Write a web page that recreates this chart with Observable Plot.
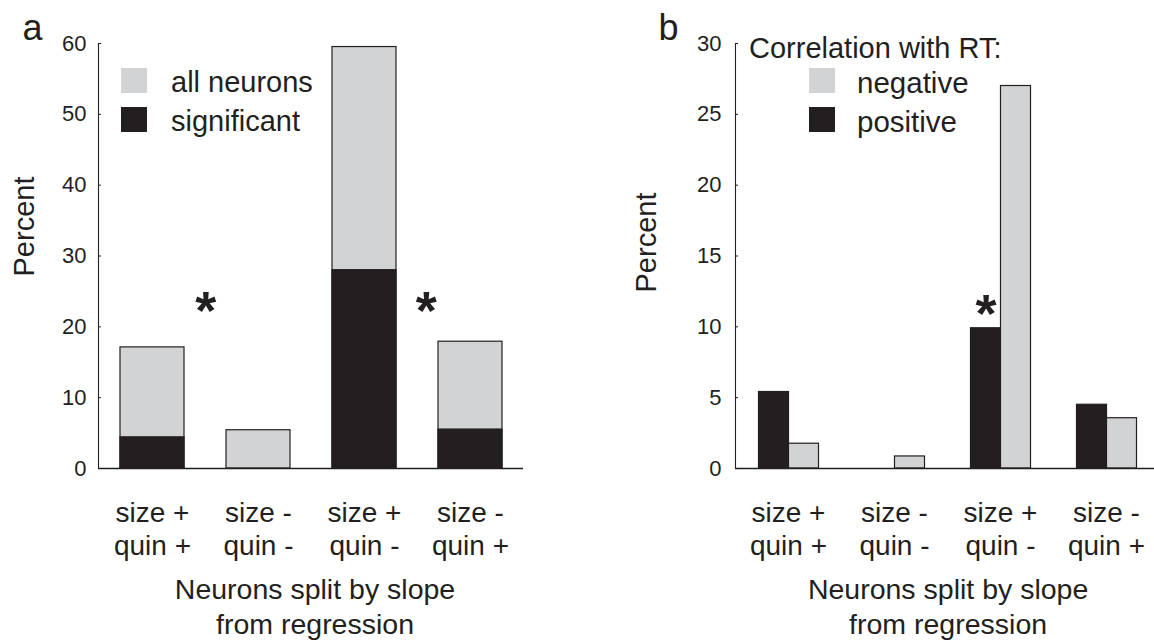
<!DOCTYPE html>
<html><head><meta charset="utf-8">
<script src="https://cdn.jsdelivr.net/npm/d3@7"></script>
<script src="https://cdn.jsdelivr.net/npm/@observablehq/plot@0.6"></script>
<style>
html,body{margin:0;padding:0;background:#fff;overflow:hidden;}
#wrap{position:relative;width:1154px;height:642px;overflow:hidden;font-family:"Liberation Sans",Arial,sans-serif;color:#231f20;}
.panel{position:absolute;top:0;}
.lg{position:absolute;white-space:nowrap;}
.sw{position:absolute;width:26px;height:25px;}
</style></head><body><div id="wrap"></div>
<script>
// ---- data ----
const categories = ["size +\nquin +", "size -\nquin -", "size +\nquin -", "size -\nquin +"];
// panel a: percent of neurons
const allNeurons = [17.1, 5.4, 59.5, 17.9];
const significant = [4.4, 0, 28.0, 5.5];
const ticksA = [0, 10, 20, 30, 40, 50, 60];
// panel b: correlation with RT
const seriesB = ["positive", "negative"];
const positiveRT = [5.4, 0, 9.9, 4.5];
const negativeRT = [1.75, 0.85, 27.0, 3.55];
const ticksB = [0, 5, 10, 15, 20, 25, 30];
// significance stars
const starsA = [{cat: categories[0], y: 24.1, shift: 0.5}, {cat: categories[2], y: 24.1, shift: 0.58}];
const starsB = [{cat: categories[2], sign: "positive", y: 11.8}];
const xLabel = "Neurons split by slope\nfrom regression";

const INK = "#231f20", LIGHT = "#d1d3d4", DARK = "#231f20";
const FONT = "'Liberation Sans', Arial, Helvetica, sans-serif";
const wrap = document.getElementById("wrap");
const H = 642, frameTop = 43, base = 468;
const starFs = 54, catFs = 28, tickFs = 22, labFs = 28.5;

// ---- panel a ----
const dataA = categories.map((c, i) => ({cat: c, all: allNeurons[i], sig: significant[i]}));
const WA = 577, leftA = 98, rightA = 523;
const stepA = (rightA - leftA) / categories.length;
const plotA = Plot.plot({
  width: WA, height: H,
  marginLeft: leftA, marginRight: WA - rightA, marginTop: frameTop, marginBottom: H - base,
  style: {fontFamily: FONT, color: INK, background: "transparent", overflow: "visible"},
  x: {domain: categories, paddingInner: 0.4, paddingOuter: 0.2, label: null},
  y: {domain: [0, 60], label: null},
  marks: [
    Plot.barY(dataA, {x: "cat", y: "all", fill: LIGHT, stroke: INK, strokeWidth: 1.2}),
    Plot.barY(dataA, {x: "cat", y: "sig", fill: DARK, stroke: INK, strokeWidth: 1.2}),
    Plot.frame({anchor: "left", stroke: INK, strokeWidth: 1.1}),
    Plot.ruleY([0], {stroke: INK, strokeWidth: 1.6}),
    Plot.axisY({ticks: ticksA, tickSize: -3, tickPadding: 15, fontSize: tickFs, label: null, stroke: INK}),
    Plot.axisX({tickSize: 0, tickPadding: 30, fontSize: catFs, lineHeight: 1.18, label: null}),
    Plot.text([xLabel], {frameAnchor: "bottom", textAnchor: "middle", lineAnchor: "top", dx: 4, dy: 106, fontSize: labFs, lineHeight: 1.22}),
    Plot.text(["Percent"], {frameAnchor: "left", textAnchor: "middle", lineAnchor: "middle", rotate: -90, dx: -74, dy: -29.5, fontSize: 29}),
    Plot.text(["a"], {frameAnchor: "top-left", textAnchor: "start", lineAnchor: "bottom", dx: -76, dy: -4, fontSize: 36}),
    ...starsA.map(s => Plot.text([s], {x: "cat", y: "y", text: () => "*", dx: s.shift * stepA, dy: 0.575 * starFs, lineAnchor: "bottom", fontSize: starFs, fontWeight: "bold"}))
  ]
});
plotA.classList.add("panel");
plotA.style.left = "0px";
wrap.appendChild(plotA);

// ---- panel b ----
const dataB = categories.flatMap((c, i) => [
  {cat: c, sign: seriesB[0], v: positiveRT[i]},
  {cat: c, sign: seriesB[1], v: negativeRT[i]}
]);
const offB = 577, WB = 600, leftB = 734.5, rightB = 1159.7;
const stepB = (rightB - leftB) / categories.length;
const plotB = Plot.plot({
  width: WB, height: H,
  marginLeft: leftB - offB, marginRight: WB - (rightB - offB), marginTop: frameTop, marginBottom: H - base,
  style: {fontFamily: FONT, color: INK, background: "transparent", overflow: "visible"},
  fx: {domain: categories, padding: 0, label: null},
  x: {domain: seriesB, paddingInner: 0, paddingOuter: 0.743, axis: null},
  y: {domain: [0, 30], label: null},
  color: {domain: seriesB, range: [DARK, LIGHT]},
  marks: [
    Plot.barY(dataB, {fx: "cat", x: "sign", y: "v", fill: "sign", stroke: INK, strokeWidth: 1.2}),
    Plot.frame({anchor: "left", facetAnchor: "left", stroke: INK, strokeWidth: 1.1}),
    Plot.ruleY([0], {stroke: INK, strokeWidth: 1.6}),
    Plot.axisY({ticks: ticksB, tickSize: -3, tickPadding: 17, fontSize: tickFs, label: null, stroke: INK}),
    Plot.axisFx({anchor: "bottom", tickSize: 0, tickPadding: 30, fontSize: catFs, lineHeight: 1.18, label: null}),
    Plot.text([xLabel], {facetAnchor: "left", frameAnchor: "bottom-left", textAnchor: "middle", lineAnchor: "top", dx: 2 * stepB, dy: 106, fontSize: labFs, lineHeight: 1.22}),
    Plot.text(["Percent"], {facetAnchor: "left", frameAnchor: "left", textAnchor: "middle", lineAnchor: "middle", rotate: -90, dx: -88.5, dy: -13.5, fontSize: 29}),
    Plot.text(["b"], {facetAnchor: "left", frameAnchor: "top-left", textAnchor: "start", lineAnchor: "bottom", dx: -77, dy: -4, fontSize: 36}),
    Plot.text(starsB, {fx: "cat", x: "sign", y: "y", text: () => "*", dy: 0.575 * starFs, lineAnchor: "bottom", fontSize: starFs, fontWeight: "bold"})
  ]
});
plotB.classList.add("panel");
plotB.style.left = offB + "px";
wrap.appendChild(plotB);

// ---- legends (HTML overlays) ----
function sw(x, y, color) {
  const d = document.createElement("div");
  d.className = "sw"; d.style.left = x + "px"; d.style.top = y + "px"; d.style.background = color;
  wrap.appendChild(d);
}
function lab(x, baseline, text, fs) {
  const d = document.createElement("div");
  d.className = "lg"; d.textContent = text;
  d.style.fontSize = fs + "px"; d.style.lineHeight = fs + "px";
  d.style.left = x + "px";
  d.style.top = (baseline - (fs - 1.117 * fs) / 2 - 0.905 * fs) + "px";
  wrap.appendChild(d);
}
sw(121, 68, LIGHT); sw(121, 107, DARK);
lab(171, 93, "all neurons", 29); lab(171, 132, "significant", 29);
lab(749, 59, "Correlation with RT:", 29);
sw(809, 68, LIGHT); sw(809, 107, DARK);
lab(857, 93, "negative", 29.5); lab(857, 132, "positive", 29.5);
</script>
</body></html>
